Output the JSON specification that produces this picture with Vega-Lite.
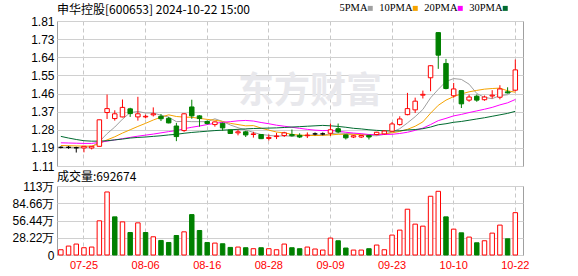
{
  "$schema": "https://vega.github.io/schema/vega-lite/v6.json",
  "background": "white",
  "padding": {"left": 11, "top": 3, "right": 0, "bottom": 0},
  "spacing": -3,
  "datasets": {
    "k": [
      {"d":"07-22","o":1.200,"h":1.205,"l":1.195,"c":1.200,"k":"flat","v":8.6,"vd":"up","ma5":1.200,"ma10":1.209,"ma20":1.222,"ma30":1.253},
      {"d":"07-23","o":1.200,"h":1.207,"l":1.193,"c":1.200,"k":"flat","v":14.6,"vd":"up","ma5":1.200,"ma10":1.208,"ma20":1.221,"ma30":1.245},
      {"d":"07-24","o":1.198,"h":1.203,"l":1.175,"c":1.198,"k":"flat","v":17.9,"vd":"up","ma5":1.199,"ma10":1.207,"ma20":1.220,"ma30":1.238},
      {"d":"07-25","o":1.197,"h":1.205,"l":1.176,"c":1.205,"k":"up","v":11.9,"vd":"up","ma5":1.201,"ma10":1.206,"ma20":1.219,"ma30":1.232},
      {"d":"07-26","o":1.197,"h":1.206,"l":1.190,"c":1.205,"k":"up","v":13.0,"vd":"up","ma5":1.202,"ma10":1.206,"ma20":1.219,"ma30":1.230},
      {"d":"07-29","o":1.205,"h":1.333,"l":1.204,"c":1.333,"k":"up","v":55.9,"vd":"up","ma5":1.228,"ma10":1.218,"ma20":1.224,"ma30":1.230},
      {"d":"07-30","o":1.368,"h":1.455,"l":1.337,"c":1.387,"k":"up","v":103.1,"vd":"up","ma5":1.266,"ma10":1.236,"ma20":1.230,"ma30":1.232},
      {"d":"07-31","o":1.339,"h":1.379,"l":1.329,"c":1.362,"k":"up","v":62.4,"vd":"down","ma5":1.298,"ma10":1.251,"ma20":1.236,"ma30":1.236},
      {"d":"08-01","o":1.347,"h":1.431,"l":1.345,"c":1.393,"k":"up","v":54.2,"vd":"up","ma5":1.336,"ma10":1.269,"ma20":1.242,"ma30":1.240},
      {"d":"08-02","o":1.386,"h":1.391,"l":1.347,"c":1.363,"k":"down","v":36.8,"vd":"down","ma5":1.368,"ma10":1.285,"ma20":1.248,"ma30":1.245},
      {"d":"08-05","o":1.347,"h":1.444,"l":1.329,"c":1.362,"k":"up","v":52.6,"vd":"up","ma5":1.373,"ma10":1.301,"ma20":1.254,"ma30":1.248},
      {"d":"08-06","o":1.347,"h":1.358,"l":1.340,"c":1.350,"k":"up","v":36.8,"vd":"down","ma5":1.366,"ma10":1.316,"ma20":1.259,"ma30":1.250},
      {"d":"08-07","o":1.357,"h":1.393,"l":1.349,"c":1.362,"k":"up","v":29.8,"vd":"up","ma5":1.366,"ma10":1.332,"ma20":1.264,"ma30":1.253},
      {"d":"08-08","o":1.350,"h":1.361,"l":1.327,"c":1.338,"k":"down","v":23.8,"vd":"down","ma5":1.355,"ma10":1.346,"ma20":1.270,"ma30":1.256},
      {"d":"08-09","o":1.340,"h":1.347,"l":1.316,"c":1.318,"k":"down","v":20.5,"vd":"down","ma5":1.346,"ma10":1.357,"ma20":1.276,"ma30":1.260},
      {"d":"08-12","o":1.303,"h":1.318,"l":1.230,"c":1.252,"k":"down","v":31.9,"vd":"down","ma5":1.324,"ma10":1.349,"ma20":1.281,"ma30":1.263},
      {"d":"08-13","o":1.281,"h":1.365,"l":1.275,"c":1.362,"k":"up","v":37.9,"vd":"up","ma5":1.326,"ma10":1.346,"ma20":1.290,"ma30":1.268},
      {"d":"08-14","o":1.395,"h":1.430,"l":1.338,"c":1.352,"k":"down","v":66.1,"vd":"down","ma5":1.324,"ma10":1.345,"ma20":1.297,"ma30":1.272},
      {"d":"08-15","o":1.352,"h":1.355,"l":1.300,"c":1.339,"k":"down","v":40.1,"vd":"down","ma5":1.324,"ma10":1.340,"ma20":1.303,"ma30":1.275},
      {"d":"08-16","o":1.325,"h":1.330,"l":1.310,"c":1.315,"k":"down","v":20.5,"vd":"down","ma5":1.324,"ma10":1.335,"ma20":1.310,"ma30":1.278},
      {"d":"08-19","o":1.310,"h":1.325,"l":1.300,"c":1.323,"k":"up","v":19.5,"vd":"up","ma5":1.338,"ma10":1.331,"ma20":1.316,"ma30":1.281},
      {"d":"08-20","o":1.316,"h":1.320,"l":1.280,"c":1.294,"k":"down","v":18.4,"vd":"down","ma5":1.325,"ma10":1.325,"ma20":1.321,"ma30":1.283},
      {"d":"08-21","o":1.284,"h":1.286,"l":1.266,"c":1.267,"k":"down","v":12.4,"vd":"down","ma5":1.308,"ma10":1.316,"ma20":1.324,"ma30":1.285},
      {"d":"08-22","o":1.270,"h":1.286,"l":1.258,"c":1.275,"k":"up","v":13.0,"vd":"up","ma5":1.295,"ma10":1.310,"ma20":1.328,"ma30":1.287},
      {"d":"08-23","o":1.275,"h":1.280,"l":1.250,"c":1.260,"k":"down","v":11.9,"vd":"down","ma5":1.284,"ma10":1.304,"ma20":1.330,"ma30":1.289},
      {"d":"08-26","o":1.262,"h":1.275,"l":1.247,"c":1.265,"k":"up","v":10.3,"vd":"up","ma5":1.272,"ma10":1.305,"ma20":1.327,"ma30":1.291},
      {"d":"08-27","o":1.262,"h":1.262,"l":1.240,"c":1.242,"k":"down","v":11.9,"vd":"down","ma5":1.262,"ma10":1.293,"ma20":1.320,"ma30":1.292},
      {"d":"08-28","o":1.243,"h":1.262,"l":1.233,"c":1.248,"k":"up","v":10.3,"vd":"up","ma5":1.258,"ma10":1.283,"ma20":1.314,"ma30":1.293},
      {"d":"08-29","o":1.252,"h":1.270,"l":1.240,"c":1.255,"k":"up","v":8.6,"vd":"up","ma5":1.254,"ma10":1.274,"ma20":1.307,"ma30":1.294},
      {"d":"08-30","o":1.257,"h":1.275,"l":1.250,"c":1.270,"k":"up","v":17.9,"vd":"up","ma5":1.256,"ma10":1.270,"ma20":1.302,"ma30":1.296},
      {"d":"09-02","o":1.262,"h":1.286,"l":1.252,"c":1.256,"k":"down","v":11.9,"vd":"down","ma5":1.254,"ma10":1.263,"ma20":1.297,"ma30":1.298},
      {"d":"09-03","o":1.258,"h":1.268,"l":1.245,"c":1.250,"k":"down","v":10.3,"vd":"down","ma5":1.256,"ma10":1.259,"ma20":1.292,"ma30":1.300},
      {"d":"09-04","o":1.256,"h":1.272,"l":1.245,"c":1.259,"k":"up","v":13.0,"vd":"up","ma5":1.258,"ma10":1.258,"ma20":1.287,"ma30":1.302},
      {"d":"09-05","o":1.265,"h":1.272,"l":1.258,"c":1.265,"k":"flat","v":9.8,"vd":"up","ma5":1.260,"ma10":1.257,"ma20":1.283,"ma30":1.304},
      {"d":"09-06","o":1.265,"h":1.272,"l":1.258,"c":1.265,"k":"flat","v":8.1,"vd":"up","ma5":1.259,"ma10":1.258,"ma20":1.281,"ma30":1.306},
      {"d":"09-09","o":1.268,"h":1.315,"l":1.255,"c":1.285,"k":"up","v":27.7,"vd":"up","ma5":1.265,"ma10":1.260,"ma20":1.282,"ma30":1.304},
      {"d":"09-10","o":1.290,"h":1.315,"l":1.268,"c":1.275,"k":"down","v":23.3,"vd":"down","ma5":1.270,"ma10":1.263,"ma20":1.278,"ma30":1.301},
      {"d":"09-11","o":1.260,"h":1.262,"l":1.238,"c":1.246,"k":"down","v":11.4,"vd":"down","ma5":1.267,"ma10":1.263,"ma20":1.273,"ma30":1.297},
      {"d":"09-12","o":1.250,"h":1.260,"l":1.245,"c":1.256,"k":"up","v":8.1,"vd":"up","ma5":1.265,"ma10":1.263,"ma20":1.269,"ma30":1.292},
      {"d":"09-13","o":1.250,"h":1.260,"l":1.245,"c":1.257,"k":"up","v":8.1,"vd":"up","ma5":1.264,"ma10":1.261,"ma20":1.266,"ma30":1.289},
      {"d":"09-18","o":1.258,"h":1.260,"l":1.238,"c":1.250,"k":"down","v":10.3,"vd":"down","ma5":1.257,"ma10":1.261,"ma20":1.262,"ma30":1.285},
      {"d":"09-19","o":1.262,"h":1.275,"l":1.258,"c":1.273,"k":"up","v":16.3,"vd":"up","ma5":1.256,"ma10":1.263,"ma20":1.261,"ma30":1.282},
      {"d":"09-20","o":1.265,"h":1.282,"l":1.262,"c":1.279,"k":"up","v":8.6,"vd":"up","ma5":1.263,"ma10":1.265,"ma20":1.262,"ma30":1.280},
      {"d":"09-23","o":1.278,"h":1.322,"l":1.276,"c":1.313,"k":"up","v":32.6,"vd":"up","ma5":1.274,"ma10":1.270,"ma20":1.263,"ma30":1.279},
      {"d":"09-24","o":1.310,"h":1.350,"l":1.305,"c":1.337,"k":"up","v":40.7,"vd":"up","ma5":1.290,"ma10":1.277,"ma20":1.267,"ma30":1.280},
      {"d":"09-25","o":1.358,"h":1.463,"l":1.355,"c":1.387,"k":"up","v":74.9,"vd":"up","ma5":1.318,"ma10":1.287,"ma20":1.273,"ma30":1.284},
      {"d":"09-26","o":1.381,"h":1.440,"l":1.366,"c":1.423,"k":"up","v":50.5,"vd":"up","ma5":1.348,"ma10":1.302,"ma20":1.282,"ma30":1.286},
      {"d":"09-27","o":1.452,"h":1.474,"l":1.436,"c":1.456,"k":"up","v":47.2,"vd":"up","ma5":1.383,"ma10":1.323,"ma20":1.293,"ma30":1.290},
      {"d":"09-30","o":1.536,"h":1.596,"l":1.471,"c":1.594,"k":"up","v":96.1,"vd":"up","ma5":1.439,"ma10":1.365,"ma20":1.310,"ma30":1.298},
      {"d":"10-08","o":1.754,"h":1.756,"l":1.579,"c":1.645,"k":"down","v":104.2,"vd":"up","ma5":1.480,"ma10":1.403,"ma20":1.329,"ma30":1.309},
      {"d":"10-09","o":1.605,"h":1.627,"l":1.480,"c":1.484,"k":"down","v":62.4,"vd":"down","ma5":1.518,"ma10":1.428,"ma20":1.340,"ma30":1.314},
      {"d":"10-10","o":1.449,"h":1.511,"l":1.440,"c":1.482,"k":"up","v":42.3,"vd":"up","ma5":1.532,"ma10":1.445,"ma20":1.352,"ma30":1.321},
      {"d":"10-11","o":1.474,"h":1.474,"l":1.390,"c":1.410,"k":"down","v":36.3,"vd":"down","ma5":1.528,"ma10":1.458,"ma20":1.359,"ma30":1.325},
      {"d":"10-14","o":1.428,"h":1.455,"l":1.420,"c":1.443,"k":"up","v":29.3,"vd":"up","ma5":1.505,"ma10":1.468,"ma20":1.368,"ma30":1.331},
      {"d":"10-15","o":1.447,"h":1.455,"l":1.420,"c":1.428,"k":"down","v":20.0,"vd":"down","ma5":1.460,"ma10":1.475,"ma20":1.376,"ma30":1.337},
      {"d":"10-16","o":1.430,"h":1.450,"l":1.425,"c":1.443,"k":"up","v":23.3,"vd":"up","ma5":1.441,"ma10":1.481,"ma20":1.384,"ma30":1.343},
      {"d":"10-17","o":1.448,"h":1.476,"l":1.436,"c":1.452,"k":"up","v":35.8,"vd":"up","ma5":1.435,"ma10":1.484,"ma20":1.393,"ma30":1.350},
      {"d":"10-18","o":1.442,"h":1.500,"l":1.432,"c":1.482,"k":"up","v":48.9,"vd":"up","ma5":1.450,"ma10":1.486,"ma20":1.405,"ma30":1.357},
      {"d":"10-21","o":1.468,"h":1.490,"l":1.460,"c":1.463,"k":"down","v":26.5,"vd":"down","ma5":1.454,"ma10":1.473,"ma20":1.415,"ma30":1.364},
      {"d":"10-22","o":1.476,"h":1.624,"l":1.470,"c":1.574,"k":"up","v":69.27,"vd":"up","ma5":1.483,"ma10":1.466,"ma20":1.431,"ma30":1.374}
    ]
  },
  "config": {
    "view": {"stroke": "#a0a0a0", "strokeWidth": 1},
    "axis": {"labelFont": "Liberation Sans", "labelColor": "#000000", "labelFontSize": 12, "domain": false, "ticks": false, "gridColor": "#d0d0d0", "gridWidth": 1}
  },
  "vconcat": [
    {
      "width": 466,
      "height": 145,
      "title": {"text": "申华控股[600653] 2024-10-22 15:00", "anchor": "start", "frame": "group", "font": "Noto Sans CJK SC", "fontSize": 12, "fontWeight": "normal", "color": "#000000", "offset": -2},
      "layer": [
        {
          "data": {"values": [{"t": "东方财富"}]},
          "mark": {"type": "text", "align": "left", "baseline": "middle", "font": "Noto Sans CJK SC", "fontSize": 36, "fontWeight": "bold", "color": "#e8e8ec"},
          "encoding": {
            "text": {"field": "t"},
            "x": {"datum": "08-22", "type": "ordinal", "scale": {"domain": {"data": "k", "field": "d"}}},
            "y": {"datum": 1.465, "type": "quantitative"}
          }
        },
        {
          "data": {"name": "k"},
          "transform": [{"fold": ["ma5", "ma10", "ma20", "ma30"], "as": ["key", "val"]}],
          "mark": {"type": "line", "strokeWidth": 1, "interpolate": "linear"},
          "encoding": {
            "x": {"field": "d", "type": "ordinal", "sort": null},
            "y": {"field": "val", "type": "quantitative"},
            "color": {
              "field": "key", "type": "nominal",
              "scale": {"domain": ["ma5", "ma10", "ma20", "ma30"], "range": ["#a0a0a0", "#f5a300", "#ff00ff", "#006b30"]},
              "legend": {
                "orient": "none", "legendX": 308, "legendY": -18, "direction": "horizontal", "title": null,
                "symbolType": "square", "symbolSize": 25, "symbolStrokeWidth": 0,
                "labelFont": "Liberation Serif", "labelFontSize": 10.5, "labelColor": "#000000",
                "labelAlign": "right", "labelOffset": -8,
                "labelExpr": "{'ma5':'5PMA','ma10':'10PMA','ma20':'20PMA','ma30':'30PMA'}[datum.value]",
                "columnPadding": 6,
                "encode": {"symbols": {"update": {"fill": {"scale": "color", "field": "value"}, "strokeWidth": {"value": 0}}}}
              }
            }
          }
        },
        {
          "data": {"name": "k"},
          "mark": {"type": "rule", "strokeWidth": 1},
          "encoding": {
            "x": {"field": "d", "type": "ordinal", "sort": null},
            "y": {"field": "l", "type": "quantitative"},
            "y2": {"field": "h"},
            "stroke": {"field": "k", "type": "nominal", "scale": {"domain": ["up", "down", "flat"], "range": ["#ff0000", "#008000", "#000000"]}, "legend": null}
          }
        },
        {
          "data": {"name": "k"},
          "mark": {"type": "bar", "strokeWidth": 1, "width": {"band": 0.58}},
          "encoding": {
            "x": {"field": "d", "type": "ordinal", "sort": null},
            "y": {"field": "o", "type": "quantitative"},
            "y2": {"field": "c"},
            "fill": {"field": "k", "type": "nominal", "scale": {"domain": ["up", "down", "flat"], "range": ["#ffffff", "#008000", "#000000"]}, "legend": null},
            "stroke": {"field": "k", "type": "nominal", "scale": {"domain": ["up", "down", "flat"], "range": ["#ff0000", "#008000", "#000000"]}, "legend": null}
          }
        }
      ],
      "encoding": {
        "x": {
          "field": "d", "type": "ordinal", "sort": null,
          "scale": {"paddingInner": 0, "paddingOuter": 0.25, "align": 0},
          "axis": {"values": ["07-25", "08-06", "08-16", "08-28", "09-09", "09-23", "10-10", "10-22"], "labels": false, "grid": true, "gridDash": [4, 3], "gridColor": "#c8c8c8", "bandPosition": 0.5, "title": null, "labelPadding": 0, "minExtent": 0, "maxExtent": 0}
        },
        "y": {
          "type": "quantitative",
          "scale": {"domain": [1.11, 1.81], "nice": false, "zero": false},
          "axis": {"values": [1.11, 1.1975, 1.285, 1.3725, 1.46, 1.5475, 1.635, 1.7225, 1.81], "labelExpr": "['1.11','1.19','1.28','1.37','1.46','1.55','1.64','1.73','1.81'][round((datum.value-1.11)/0.0875)]", "title": null, "grid": true, "labelPadding": 3}
        }
      }
    },
    {
      "width": 466,
      "height": 69,
      "title": {"text": "成交量:692674", "anchor": "start", "frame": "group", "font": "Noto Sans CJK SC", "fontSize": 12, "fontWeight": "normal", "color": "#000000", "offset": -4},
      "data": {"name": "k"},
      "mark": {"type": "bar", "strokeWidth": 1, "width": {"band": 0.58}},
      "encoding": {
        "x": {
          "field": "d", "type": "ordinal", "sort": null,
          "scale": {"paddingInner": 0, "paddingOuter": 0.25, "align": 0},
          "axis": {"values": ["07-25", "08-06", "08-16", "08-28", "09-09", "09-23", "10-10", "10-22"], "labelColor": "#ff0000", "labelFontSize": 11, "labelAngle": 0, "labelPadding": 4, "grid": true, "gridDash": [4, 3], "gridColor": "#c8c8c8", "bandPosition": 0.5, "title": null}
        },
        "y": {
          "field": "v", "type": "quantitative",
          "scale": {"domain": [0, 112.88], "nice": false},
          "axis": {"values": [0, 28.22, 56.44, 84.66, 112.88], "labelExpr": "datum.value == 0 ? '0' : (datum.value > 112 ? '113万' : format(datum.value, '.2f') + '万')", "title": null, "grid": true, "labelPadding": 3}
        },
        "fill": {"field": "vd", "type": "nominal", "scale": {"domain": ["up", "down", "flat"], "range": ["#ffffff", "#008000", "#000000"]}, "legend": null},
        "stroke": {"field": "vd", "type": "nominal", "scale": {"domain": ["up", "down", "flat"], "range": ["#ff0000", "#008000", "#000000"]}, "legend": null}
      }
    }
  ]
}
